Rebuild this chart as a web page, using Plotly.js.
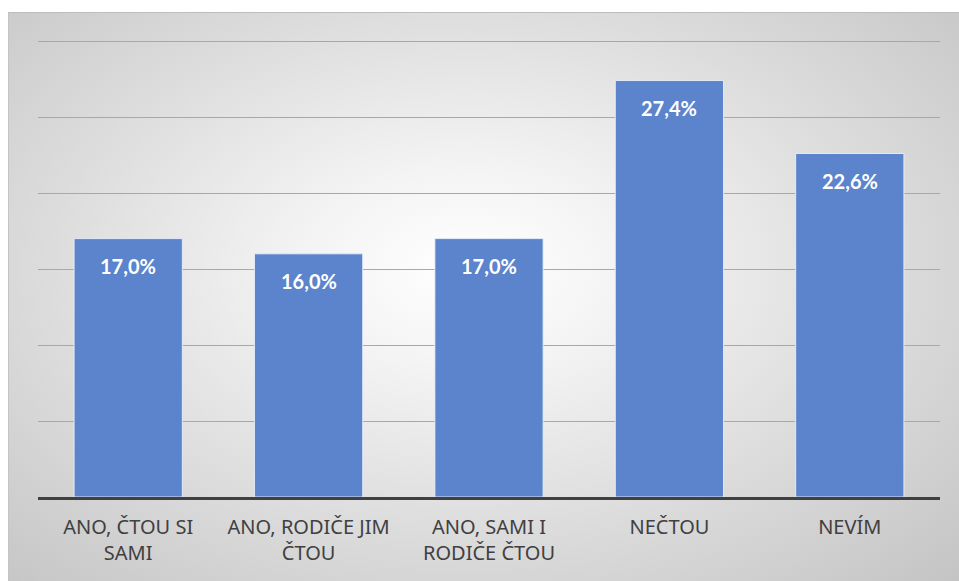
<!DOCTYPE html>
<html>
<head>
<meta charset="utf-8">
<script src="https://cdn.plot.ly/plotly-3.0.1.min.js"></script>
<style>
  html, body { margin: 0; padding: 0; background: #ffffff; }
  #wrap { position: relative; width: 959px; height: 581px; overflow: hidden; }
  #bg { position: absolute; left: 8px; top: 12px; right: 0; bottom: 0;
        background: radial-gradient(ellipse farthest-corner at 48% 45%, #ffffff 0%, #f4f4f4 22%, #dcdcdc 60%, #c4c4c4 100%);
        border-top: 1px solid #bdbdbd; border-left: 1px solid #c4c4c4; }
  #chart { position: absolute; left: 0; top: 0; width: 959px; height: 581px; }
</style>
</head>
<body>
<div id="wrap"><div id="bg"></div><div id="chart"></div></div>
<script>
const categories = ["ANO, ČTOU SI<br>SAMI", "ANO, RODIČE JIM<br>ČTOU", "ANO, SAMI I<br>RODIČE ČTOU", "NEČTOU", "NEVÍM"];
const values = [17.0, 16.0, 17.0, 27.4, 22.6];
const labels = values.map(v => v.toFixed(1).replace('.', ',') + '%');

const trace = {
  type: 'bar',
  x: categories,
  y: values,
  marker: { color: '#5b84cc', line: { color: 'rgba(235,240,250,0.9)', width: 1 } },
  hoverinfo: 'none'
};

const annotations = categories.map((c, i) => ({
  x: c, y: values[i], xref: 'x', yref: 'y',
  text: labels[i], showarrow: false, yshift: -27,
  font: { family: 'Lato, "Open Sans", sans-serif', size: 20, color: '#ffffff', weight: 'bold' }
}));

const layout = {
  width: 959, height: 581,
  margin: { l: 38, r: 19, t: 38, b: 84 },
  paper_bgcolor: 'rgba(0,0,0,0)',
  plot_bgcolor: 'rgba(0,0,0,0)',
  bargap: 0.4,
  showlegend: false,
  xaxis: {
    type: 'category',
    showline: true, linecolor: '#404040', linewidth: 3,
    ticks: '', showgrid: false,
    tickfont: { family: '"Noto Sans", "Open Sans", sans-serif', size: 20, color: '#404040' },
    ticklabelstandoff: 10,
    fixedrange: true
  },
  yaxis: {
    range: [0, 30.2], dtick: 5, tick0: 0,
    showgrid: true, gridcolor: '#a8a8a8', gridwidth: 1,
    showticklabels: false, zeroline: false, showline: false, ticks: '',
    fixedrange: true
  },
  annotations: annotations
};

Plotly.newPlot('chart', [trace], layout, { displayModeBar: false, staticPlot: true });
</script>
</body>
</html>
